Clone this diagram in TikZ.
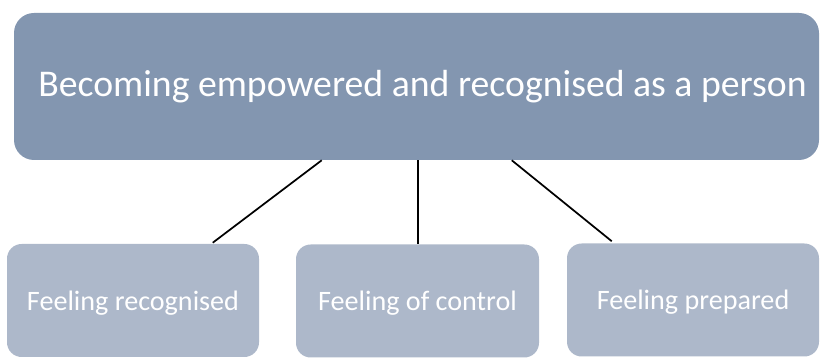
\documentclass[tikz,border=0pt]{standalone}
\usepackage{fontspec}
\setmainfont{Carlito}
\usetikzlibrary{calc}
\definecolor{topfill}{HTML}{8396B0}
\definecolor{subfill}{HTML}{ADB8CA}
\begin{document}
\begin{tikzpicture}[x=0.75pt,y=-0.75pt,
  topbox/.style={draw=none,fill=topfill,rounded corners=15pt,minimum width=805*0.75pt,minimum height=147*0.75pt,text=white,font=\fontsize{28.3pt}{34pt}\selectfont,inner sep=0pt},
  subbox/.style={draw=none,fill=subfill,rounded corners=11pt,minimum height=113*0.75pt,text=white,font=\fontsize{21.1pt}{25pt}\selectfont,inner sep=0pt},
  link/.style={draw=black,line width=1.3pt}]
\useasboundingbox (0,0) rectangle (821,359);
\node[topbox] (top) at (416.5,86.5) {\hspace*{9pt}Becoming empowered and recognised as a person};
\node[subbox,minimum width=252*0.75pt,text depth=-3pt] (b1) at (133,300.5) {Feeling recognised};
\node[subbox,minimum width=243*0.75pt,text depth=-5pt] (b2) at (417.5,301) {Feeling of control};
\node[subbox,minimum width=252*0.75pt,text depth=-3pt] (b3) at (693,300) {Feeling prepared};
\draw[link] ($(top.south west)+(308,0)$) -- ($(b1.north west)+(206,-1)$);
\draw[link] ($(top.south west)+(404,0)$) -- ($(b2.north west)+(122,0)$);
\draw[link] ($(top.south west)+(498,0)$) -- ($(b3.north west)+(45,-2)$);
\end{tikzpicture}
\end{document}
